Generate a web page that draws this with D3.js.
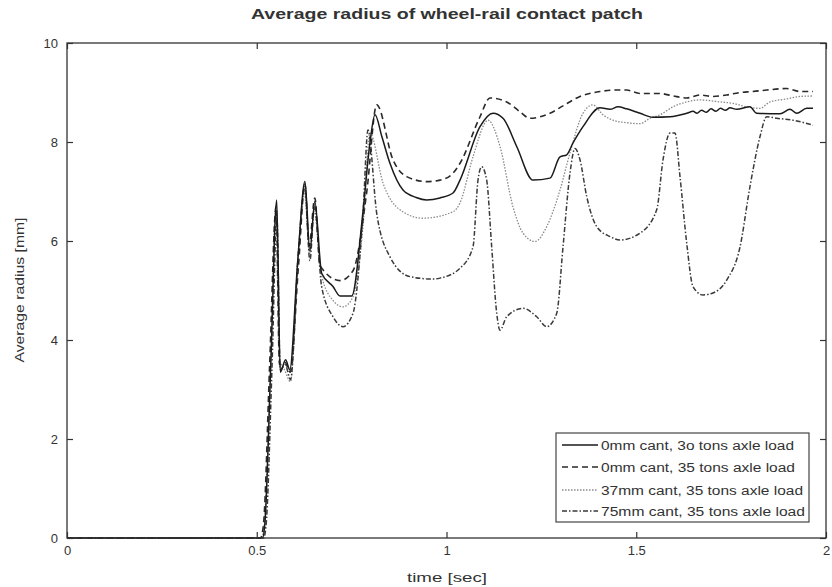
<!DOCTYPE html>
<html><head><meta charset="utf-8">
<script src="https://cdn.jsdelivr.net/npm/d3@7"></script>
<style>
html,body{margin:0;padding:0;background:#fff;}
svg text{font-family:"Liberation Sans",Arial,sans-serif;fill:#333;}
</style></head>
<body><svg id="chart" width="832" height="587"></svg>
<script>
// ---------- data ----------
const chartTitle = "Average radius of wheel-rail contact patch";
const xLabel = "time [sec]";
const yLabel = "Average radius [mm]";
const xTicks = [0, 0.5, 1, 1.5, 2];
const xTickLabels = ["0", "0.5", "1", "1.5", "2"];
const yTicks = [0, 2, 4, 6, 8, 10];
const legendLabels = ["0mm cant, 3o tons axle load", "0mm cant, 35 tons axle load",
                      "37mm cant, 35 tons axle load", "75mm cant, 35 tons axle load"];

// series 1: 0mm cant, 30 t (solid)
const t1 = [0,0.515,0.5215,0.537,0.5526,0.562,0.576,0.587,0.608,0.627,0.64,0.653,0.671,0.7009,0.7194,0.7502,0.78,0.797,0.8116,0.83,0.851,0.8854,0.92,0.9478,0.9829,1.0171,1.0356,1.0883,1.1225,1.1489,1.185,1.2279,1.2727,1.2991,1.3167,1.3333,1.3597,1.4045,1.4308,1.4519,1.4748,1.5099,1.5441,1.5889,1.6329,1.65,1.66,1.672,1.685,1.697,1.71,1.722,1.735,1.747,1.7647,1.7997,1.8174,1.8788,1.9051,1.9228,1.9491,1.9657];
const v1 = [0,0,0.3,3.5,6.83,3.35,3.6,3.4,5.6,7.2,5.8,6.8,5.35,5.08,4.89,4.89,6.6,7.9,8.55,8.1,7.57,7.03,6.88,6.83,6.87,6.97,7.23,8.31,8.58,8.48,7.91,7.23,7.27,7.7,7.74,7.98,8.31,8.69,8.66,8.71,8.67,8.58,8.5,8.51,8.58,8.62,8.58,8.64,8.6,8.67,8.62,8.68,8.64,8.69,8.66,8.71,8.58,8.57,8.66,8.58,8.68,8.68];

// series 2: 0mm cant, 35 t (dashed)
const t2 = [0,0.51,0.518,0.534,0.551,0.56,0.574,0.588,0.61,0.627,0.638,0.653,0.6667,0.7194,0.7536,0.79,0.8161,0.859,0.8951,0.9478,0.9829,1.0171,1.0356,1.0883,1.1146,1.1586,1.1937,1.22,1.2727,1.307,1.3518,1.4045,1.4485,1.4748,1.5099,1.5626,1.5968,1.6329,1.668,1.7022,1.7383,1.7734,1.8076,1.8437,1.8964,1.9315,1.9657];
const v2 = [0,0,0.3,3.5,6.7,3.5,3.55,3.35,5.5,7.15,5.9,6.87,5.5,5.2,5.4,7.0,8.75,7.64,7.3,7.2,7.23,7.37,7.57,8.51,8.89,8.81,8.61,8.48,8.58,8.73,8.92,9.02,9.05,9.05,8.98,8.98,8.93,8.89,8.95,8.92,8.95,9.0,9.02,9.05,9.08,9.02,9.02];

// series 3: 37mm cant, 35 t (dotted)
const t3 = [0,0.513,0.52,0.536,0.55,0.56,0.573,0.589,0.608,0.625,0.64,0.651,0.671,0.7009,0.7273,0.7536,0.78,0.7984,0.8327,0.8775,0.9381,1.0171,1.0356,1.0698,1.1094,1.141,1.1752,1.2016,1.2332,1.264,1.2991,1.3254,1.3597,1.386,1.4124,1.4387,1.4748,1.5099,1.5362,1.5626,1.5968,1.6329,1.668,1.7207,1.7549,1.791,1.8261,1.8524,1.8964,1.9315,1.9657];
const v3 = [0,0,0.3,3.4,6.6,3.6,3.4,3.16,5.6,7.0,5.75,6.6,5.3,4.8,4.67,4.87,6.3,8.18,7.17,6.63,6.46,6.59,6.77,7.7,8.44,7.91,6.69,6.16,5.99,6.29,7.03,7.78,8.58,8.75,8.55,8.44,8.39,8.37,8.48,8.55,8.71,8.81,8.85,8.81,8.78,8.71,8.68,8.81,8.87,8.92,8.93];

// series 4: 75mm cant, 35 t (dash-dot)
const t4 = [0,0.518,0.525,0.54,0.553,0.562,0.575,0.589,0.61,0.627,0.64,0.652,0.671,0.7009,0.7273,0.7536,0.78,0.7931,0.8161,0.8511,0.9038,0.9644,0.9829,1.0356,1.0698,1.083,1.0927,1.1059,1.1191,1.1323,1.141,1.1586,1.2016,1.2377,1.264,1.2904,1.307,1.3254,1.3386,1.3518,1.3694,1.3958,1.4308,1.4572,1.5099,1.5539,1.5705,1.5889,1.6021,1.6153,1.6329,1.6495,1.6759,1.7022,1.7383,1.7734,1.7997,1.8261,1.8437,1.8701,1.913,1.9657];
const v4 = [0,0,0.3,3.4,6.5,3.4,3.5,3.2,5.8,7.1,5.6,6.7,5.08,4.47,4.27,4.54,6.56,8.24,6.56,5.68,5.28,5.23,5.25,5.45,5.88,7.23,7.5,7.23,5.88,4.54,4.2,4.47,4.64,4.47,4.27,4.54,5.88,7.37,7.87,7.64,6.9,6.29,6.09,6.02,6.16,6.63,7.64,8.18,8.18,7.3,5.96,5.08,4.91,4.95,5.21,5.88,7.1,8.11,8.51,8.48,8.44,8.34];

// ---------- layout ----------
const svg = d3.select("#chart");
const L = 67, R = 826, T = 43, B = 538;
const x = d3.scaleLinear().domain([0, 2]).range([L, R]);
const y = d3.scaleLinear().domain([0, 10]).range([B, T]);

const styles = [
  {stroke:"#1a1a1a", width:1.5, dash:null},
  {stroke:"#2a2a2a", width:1.6, dash:"6,4"},
  {stroke:"#8a8a8a", width:1.3, dash:"1.5,1.5"},
  {stroke:"#3a3a3a", width:1.5, dash:"5,2,1.5,2"}
];
const series = [[t1,v1],[t2,v2],[t3,v3],[t4,v4]];

const line = d3.line().x(d => x(d[0])).y(d => y(d[1])).curve(d3.curveMonotoneX);

const plot = svg.append("g");
// draw order: dotted, dash-dot, dashed, solid
[2,3,1,0].forEach(i => {
  const [ts, vs] = series[i];
  const pts = ts.map((t, k) => [t, vs[k]]);
  plot.append("path").datum(pts)
    .attr("d", line).attr("fill","none")
    .attr("stroke", styles[i].stroke).attr("stroke-width", styles[i].width)
    .attr("stroke-dasharray", styles[i].dash)
    .attr("stroke-linejoin","round");
});

// frame
svg.append("rect").attr("x",L).attr("y",T).attr("width",R-L).attr("height",B-T)
  .attr("fill","none").attr("stroke","#333").attr("stroke-width",1.3);

// axes (ticks inward), using d3 axes
const axB = svg.append("g").attr("transform",`translate(0,${B})`)
  .call(d3.axisBottom(x).tickValues(xTicks).tickSize(-6).tickPadding(8).tickFormat((d,i)=>xTickLabels[i]));
const axT = svg.append("g").attr("transform",`translate(0,${T})`)
  .call(d3.axisTop(x).tickValues(xTicks).tickSize(-6).tickFormat(""));
const axL = svg.append("g").attr("transform",`translate(${L},0)`)
  .call(d3.axisLeft(y).tickValues(yTicks).tickSize(-6).tickPadding(9).tickFormat(d3.format("d")));
const axR = svg.append("g").attr("transform",`translate(${R},0)`)
  .call(d3.axisRight(y).tickValues(yTicks).tickSize(-6).tickFormat(""));
[axB,axT,axL,axR].forEach(g => {
  g.select(".domain").remove();
  g.selectAll(".tick line").attr("stroke","#333").attr("stroke-width",1.2);
  g.selectAll(".tick text").attr("font-size",13).attr("fill","#444")
    .attr("font-family","Liberation Sans, Arial, sans-serif");
});

// title & labels
svg.append("text").attr("x",447).attr("y",19).attr("text-anchor","middle")
  .attr("font-size",14).attr("font-weight","bold").attr("fill","#222")
  .attr("textLength",392).attr("lengthAdjust","spacingAndGlyphs").text(chartTitle);
svg.append("text").attr("x",447).attr("y",582).attr("text-anchor","middle")
  .attr("font-size",13).attr("fill","#444")
  .attr("textLength",80).attr("lengthAdjust","spacingAndGlyphs").text(xLabel);
svg.append("text").attr("transform","translate(24,290) rotate(-90)").attr("text-anchor","middle")
  .attr("font-size",13).attr("fill","#444")
  .attr("textLength",145).attr("lengthAdjust","spacingAndGlyphs").text(yLabel);

// legend
const lg = svg.append("g");
lg.append("rect").attr("x",556).attr("y",433).attr("width",253).attr("height",89)
  .attr("fill","#fff").attr("stroke","#444").attr("stroke-width",1.2);
const rowY = [445, 467, 490, 511];
const textW = [193, 194, 202, 204];
legendLabels.forEach((lab, i) => {
  lg.append("line").attr("x1",562).attr("x2",598).attr("y1",rowY[i]).attr("y2",rowY[i])
    .attr("stroke",styles[i].stroke).attr("stroke-width",styles[i].width)
    .attr("stroke-dasharray",styles[i].dash);
  lg.append("text").attr("x",601).attr("y",rowY[i]+4.5).attr("font-size",12.5).attr("fill","#444")
    .attr("textLength",textW[i]).attr("lengthAdjust","spacingAndGlyphs").text(lab);
});
</script>
</body></html>
